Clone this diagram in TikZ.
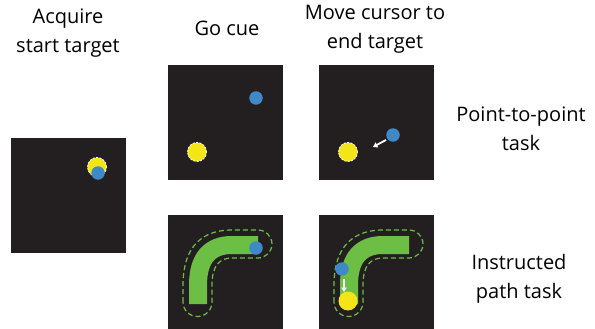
\documentclass[tikz,border=0pt]{standalone}
\usepackage{fontspec}
\setmainfont{Open Sans}
\usetikzlibrary{arrows.meta}
\definecolor{panelbg}{HTML}{231F20}
\definecolor{cursorblue}{HTML}{3F89C8}
\definecolor{targetyellow}{HTML}{F4E616}
\definecolor{pathgreen}{HTML}{6CBE45}
\tikzset{
  panel/.style={fill=panelbg, draw=none, minimum width=115pt, minimum height=115pt, inner sep=0pt},
  lbl/.style={align=center, inner sep=0pt, font=\fontsize{20}{29}\selectfont},
  cursor/.style={circle, fill=cursorblue, draw=none, minimum size=13.5pt, inner sep=0pt},
  target/.style={circle, fill=targetyellow, draw=white, dash pattern=on 2.2pt off 1.2pt, line width=0.8pt, minimum size=19pt, inner sep=0pt},
  plaintarget/.style={circle, fill=targetyellow, draw=none, minimum size=19pt, inner sep=0pt},
  band/.style={draw=pathgreen, line width=18pt},
  bandedge/.style={draw=pathgreen, dash pattern=on 5pt off 3pt, line width=1.2pt},
  move/.style={draw=white, line width=1.8pt, -{Triangle[width=5.5pt,length=4.5pt]}}
}
\begin{document}
\begin{tikzpicture}[x=1pt,y=-1pt]
\useasboundingbox (0,0) rectangle (595,329);
% labels
\node[lbl] (tA) at (68,33) {Acquire\\start target};
\node[lbl] (tB) at (227,28) {Go cue};
\node[lbl] (tC) at (375,29) {Move cursor to\\end target};
\node[lbl] (tP) at (521,129) {Point-to-point\\task};
\node[lbl] (tI) at (519,279) {Instructed\\path task};
% panels
\node[panel] (pA) at (68.5,195.5) {};
\node[panel] (pB) at (225.5,122.5) {};
\node[panel] (pC) at (376.5,122.5) {};
\node[panel] (pD) at (225.5,272.5) {};
\node[panel] (pE) at (376.5,272.5) {};
% panel A
\node[target] (yA) at (97,167) {};
\node[cursor] (bA) at (98,173) {};
% panel B
\node[target] (yB) at (197,152) {};
\node[cursor] (bB) at (256,98) {};
% panel C
\node[target] (yC) at (348,152) {};
\node[cursor] (bC) at (393,135) {};
\coordinate (cS) at (386,140);
\coordinate (cE) at (373,147);
\draw[move] (cS) -- (cE);
% instructed paths
\foreach \ox in {0,151} {
\begin{scope}[xshift=\ox pt]
\draw[band] (198,304) -- (198,285) .. controls (198,258) and (210,245) .. (232,245) -- (258,245);
\draw[bandedge] (183,302) -- (183,285) .. controls (183,255) and (195,230) .. (232,230) -- (258,230)
  arc[start angle=-90,end angle=90,radius=14] -- (232,258)
  .. controls (220,258) and (212,265) .. (212,285) -- (212,302)
  arc[start angle=0,end angle=180,radius=14.5] -- cycle;
\end{scope}
}
% panel D
\node[cursor] (bD) at (256,248) {};
% panel E
\node[plaintarget] (yE) at (348,301) {};
\node[cursor] (bE) at (342,269) {};
\coordinate (eS) at (344,279);
\coordinate (eE) at (344,292);
\draw[move] (eS) -- (eE);
\end{tikzpicture}
\end{document}
